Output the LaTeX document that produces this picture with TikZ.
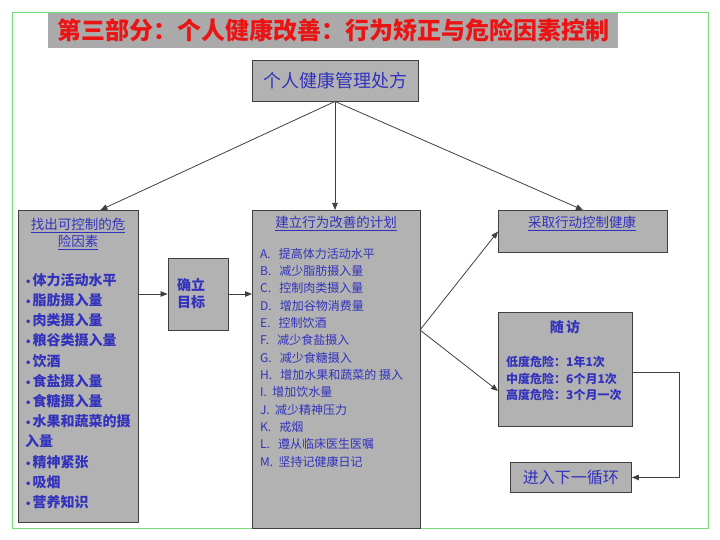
\documentclass[tikz,border=0pt]{standalone}
\usepackage{fontspec}
\setmainfont{Noto Sans CJK SC}
\newfontfamily\bulletfont{DejaVu Sans}
\usetikzlibrary{arrows.meta,calc}

\definecolor{framegreen}{RGB}{120,220,120}
\definecolor{boxgray}{RGB}{178,178,178}
\definecolor{bandgray}{RGB}{170,170,170}
\definecolor{titlered}{RGB}{235,20,20}
\definecolor{txtblue}{RGB}{50,50,190}
\definecolor{linegray}{RGB}{64,64,64}
\newcommand{\bul}{{\bulletfont\fontsize{10}{10}\selectfont •}\kern1pt}

\begin{document}
\begin{tikzpicture}[x=1pt,y=-1pt,
  box/.style={draw=linegray, line width=0.9pt, fill=boxgray, inner sep=0pt},
  txt/.style={text=txtblue, inner sep=0pt},
  arr/.style={->, draw=linegray, line width=0.8pt},
  >={Triangle[length=7pt,width=5.5pt]}]

\useasboundingbox (0,0) rectangle (720,540);

%% Frame and title
\draw [framegreen, line width=1pt] (12.5,12.5) rectangle (708,528);
\node [fill=bandgray, minimum width=570, minimum height=35, inner sep=0pt,
  text=titlered, font=\bfseries\fontsize{24}{28}\selectfont] (title) at (333,30.5)
  {第三部分：个人健康改善：行为矫正与危险因素控制};

%% Prescription
\node [box, txt, minimum width=166, minimum height=41,
  font=\fontsize{18}{22}\selectfont] (presc) at (335,80.5) {个人健康管理处方};

%% Risk factors
\node [box, minimum width=120, minimum height=312, anchor=north west] (risk) at (18,210) {};
\node [txt, anchor=north, align=center, font=\fontsize{13.5}{17}\selectfont] (risktitle) at (78,218)
  {\underline{找出可控制的危}\\\underline{险因素}};
\node [txt, anchor=north west, align=left, font=\bfseries\fontsize{14}{20.2}\selectfont] (risklist) at (25,273)
  {\bul 体力活动水平\\\bul 脂肪摄入量\\\bul 肉类摄入量\\\bul 粮谷类摄入量\\\bul 饮酒\\\bul 食盐摄入量\\
   \bul 食糖摄入量\\\bul 水果和蔬菜的摄\\入量\\\bul 精神紧张\\\bul 吸烟\\\bul 营养知识};

%% Goal
\node [box, txt, minimum width=60, minimum height=72, text width=42, align=left,
  font=\bfseries\fontsize{14}{17}\selectfont] (goal) at (198,294) {确立\\目标};

%% Plan
\node [box, minimum width=168, minimum height=318, anchor=north west] (plan) at (252,210) {};
\node [txt, anchor=north, font=\fontsize{13.5}{17}\selectfont] (plantitle) at (336,216)
  {\underline{建立行为改善的计划}};
\node [txt, anchor=north west, align=left, font=\fontsize{12}{17.33}\selectfont] (planlist) at (260,248)
  {A.~~~提高体力活动水平\\B.~~~减少脂肪摄入量\\C.~~~控制肉类摄入量\\D.~~~增加谷物消费量\\
   E.~~~控制饮酒\\F.~~~减少食盐摄入\\G.~~~减少食糖摄入\\H.~~~增加水果和蔬菜的 摄入\\
   I.~~增加饮水量\\J.~~减少精神压力\\K.~~~戒烟\\L.~~~遵从临床医生医嘱\\M.~~坚持记健康日记};

%% Action
\node [box, minimum width=169, minimum height=42, anchor=north west] (act) at (498,210) {};
\node [txt, anchor=north, font=\fontsize{13.5}{17}\selectfont] (acttitle) at (582,216)
  {\underline{采取行动控制健康}};

%% Follow-up
\node [box, minimum width=134, minimum height=114, anchor=north west] (follow) at (498,312) {};
\node [txt, font=\bfseries\fontsize{14}{17}\selectfont] (followtitle) at (565,327) {随\,访};
\node [txt, anchor=north west, align=left, font=\bfseries\fontsize{12}{16.5}\selectfont] (followlist) at (506,356)
  {低度危险：1年1次\\中度危险：6个月1次\\高度危险：3个月一次};

%% Next cycle
\node [box, txt, minimum width=121, minimum height=30, anchor=north west,
  font=\fontsize{16}{20}\selectfont] (next) at (510,462) {进入下一循环};

%% Connectors
\coordinate (split) at (420,330);
\draw [arr] (presc.south) -- ($(risk.north)+(22,0)$);
\draw [arr] (presc.south) -- (presc.south |- plan.north);
\draw [arr] (presc.south) -- (act.north);
\draw [arr] (risk.east |- goal.west) -- (goal.west);
\draw [arr] (goal.east) -- (goal.east -| plan.west);
\draw [arr] (split) -- (act.west);
\draw [arr] (split) -- ($(follow.south west)+(0,-36)$);
\draw [arr] ($(follow.east)+(0,3)$) -- ++(46,0) |- (next.east);

\end{tikzpicture}
\end{document}
